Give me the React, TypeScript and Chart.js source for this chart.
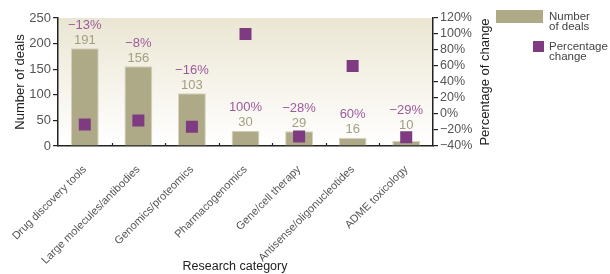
import React, { useEffect, useRef } from "react";
import { Chart, registerables } from "chart.js";

Chart.register(...registerables);

const categories = [
  "Drug discovery tools",
  "Large molecules/antibodies",
  "Genomics/proteomics",
  "Pharmacogenomics",
  "Gene/cell therapy",
  "Antisense/oligonucleotides",
  "ADME toxicology",
];
const dealCounts = [191, 156, 103, 30, 29, 16, 10];
const pctChange = [-13, -8, -16, 100, -28, 60, -29];
const leftTicks = [0, 50, 100, 150, 200, 250];
const rightTicks = [-40, -20, 0, 20, 40, 60, 80, 100, 120];

const FONT = "'Liberation Sans', Arial, sans-serif";
const BAR = "#aeaa88";
const PURPLE = "#7e3b82";
const PCT_TXT = "#9c5a9c";
const NUM_TXT = "#a39e80";
const TICK_TXT = "#555555";
const LEGEND_TXT = "#444444";
const AXIS = "#222222";

const fmtPct = (v: number) => (v < 0 ? "\u2212" + Math.abs(v) : String(v)) + "%";

const bgPlugin = {
  id: "bgGrad",
  beforeDraw(chart: any) {
    const { ctx, chartArea } = chart;
    if (!chartArea) return;
    const g = ctx.createLinearGradient(0, chartArea.top, 0, chartArea.bottom);
    g.addColorStop(0, "#ebe6d3");
    g.addColorStop(1, "#ffffff");
    ctx.save();
    ctx.fillStyle = g;
    ctx.fillRect(chartArea.left, chartArea.top, chartArea.right - chartArea.left, chartArea.bottom - chartArea.top);
    ctx.restore();
  },
};

const overlayPlugin = {
  id: "overlay",
  afterDraw(chart: any) {
    const { ctx, chartArea } = chart;
    const x = chart.scales.x;
    const y = chart.scales.y;
    const y1 = chart.scales.y1;
    ctx.save();
    // inside ticks on x axis between categories
    ctx.strokeStyle = AXIS;
    ctx.lineWidth = 1.2;
    for (let i = 0; i < categories.length - 1; i++) {
      const px = Math.round((x.getPixelForValue(i) + x.getPixelForValue(i + 1)) / 2) + 0.5;
      ctx.beginPath();
      ctx.moveTo(px, chartArea.bottom);
      ctx.lineTo(px, chartArea.bottom - 3);
      ctx.stroke();
    }
    // labels above bars, lifted above the marker when they would collide
    ctx.font = `13px ${FONT}`;
    ctx.textAlign = "center";
    ctx.textBaseline = "middle";
    dealCounts.forEach((v, i) => {
      const px = x.getPixelForValue(i);
      const top = y.getPixelForValue(v);
      const my = y1.getPixelForValue(pctChange[i]);
      let ly = top - 8;
      if (Math.abs(my - ly) < 12) ly = my - 12;
      ctx.fillStyle = NUM_TXT;
      ctx.fillText(String(v), px, ly);
      ctx.fillStyle = PCT_TXT;
      ctx.fillText(fmtPct(pctChange[i]), px, ly - 15);
    });
    // axis titles
    ctx.fillStyle = AXIS;
    ctx.font = `13px ${FONT}`;
    const midY = (chartArea.top + chartArea.bottom) / 2;
    ctx.save();
    ctx.translate(20, midY);
    ctx.rotate(-Math.PI / 2);
    ctx.fillText("Number of deals", 0, 0);
    ctx.restore();
    ctx.save();
    ctx.translate(485, midY);
    ctx.rotate(-Math.PI / 2);
    ctx.fillText("Percentage of change", 0, 0);
    ctx.restore();
    ctx.font = `12.5px ${FONT}`;
    ctx.fillText("Research category", 235, 267);
    // legend
    ctx.fillStyle = BAR;
    ctx.fillRect(496, 10, 47, 13);
    ctx.fillStyle = PURPLE;
    ctx.fillRect(533, 41, 11, 11);
    ctx.fillStyle = LEGEND_TXT;
    ctx.font = `11.5px ${FONT}`;
    ctx.textAlign = "left";
    ctx.fillText("Number", 549, 17);
    ctx.fillText("of deals", 549, 27);
    ctx.fillText("Percentage", 549, 47);
    ctx.fillText("change", 549, 57);
    ctx.restore();
  },
};

export default function App() {
  const ref = useRef<HTMLCanvasElement | null>(null);
  useEffect(() => {
    if (!ref.current) return;
    const chart = new Chart(ref.current, {
      type: "bar",
      data: {
        labels: categories,
        datasets: [
          {
            type: "line",
            label: "Percentage change",
            data: pctChange,
            yAxisID: "y1",
            showLine: false,
            pointStyle: "rect",
            pointRadius: 8.5,
            pointBackgroundColor: PURPLE,
            pointBorderWidth: 0,
            borderColor: PURPLE,
            order: 0,
          } as any,
          {
            type: "bar",
            label: "Number of deals",
            data: dealCounts,
            yAxisID: "y",
            backgroundColor: BAR,
            borderColor: "#d6d2bc",
            borderWidth: 1,
            barPercentage: 0.52,
            categoryPercentage: 1,
            order: 1,
          },
        ],
      },
      options: {
        animation: false,
        responsive: false,
        maintainAspectRatio: false,
        layout: { padding: { left: 0, right: 115, top: 18, bottom: 0 } },
        plugins: { legend: { display: false }, tooltip: { enabled: false } },
        scales: {
          x: {
            offset: true,
            grid: { display: false },
            border: { display: true, color: AXIS, width: 1.5 },
            ticks: {
              color: TICK_TXT,
              font: { family: FONT, size: 11 },
              minRotation: 45,
              maxRotation: 45,
              padding: 9,
              autoSkip: false,
            },
            afterFit(s: any) {
              s.height = 128;
              s.paddingLeft = 0;
              s.paddingRight = 0;
            },
          },
          y: {
            position: "left",
            min: 0,
            max: 250,
            afterBuildTicks(s: any) {
              s.ticks = leftTicks.map((v) => ({ value: v }));
            },
            grid: { drawOnChartArea: false, drawTicks: true, tickLength: 5, color: AXIS, lineWidth: 1.2 },
            border: { display: true, color: AXIS, width: 1.5 },
            ticks: { color: TICK_TXT, font: { family: FONT, size: 13 }, padding: 2, autoSkip: false },
            afterFit(s: any) {
              s.width = 58;
              s.paddingTop = 0;
              s.paddingBottom = 0;
            },
          },
          y1: {
            position: "right",
            min: -40,
            max: 120,
            afterBuildTicks(s: any) {
              s.ticks = rightTicks.map((v) => ({ value: v }));
            },
            grid: { drawOnChartArea: false, drawTicks: true, tickLength: 5, color: AXIS, lineWidth: 1.2 },
            border: { display: true, color: AXIS, width: 1.5 },
            ticks: {
              color: TICK_TXT,
              font: { family: FONT, size: 12.5 },
              padding: 2,
              autoSkip: false,
              callback: (v: any) => fmtPct(Number(v)),
            },
            afterFit(s: any) {
              s.width = 62;
              s.paddingTop = 0;
              s.paddingBottom = 0;
            },
          },
        },
      },
      plugins: [bgPlugin, overlayPlugin],
    } as any);
    return () => chart.destroy();
  }, []);
  return (
    <div style={{ position: "absolute", left: 0, top: 0, width: 610, height: 274, background: "#fff" }}>
      <canvas ref={ref} width={610} height={274} style={{ width: 610, height: 274 }} />
    </div>
  );
}
